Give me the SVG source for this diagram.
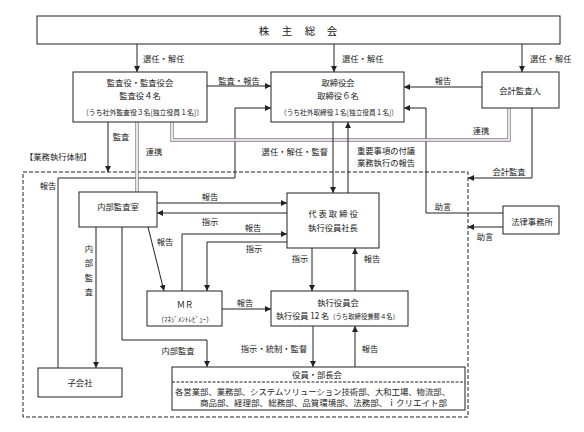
<svg xmlns="http://www.w3.org/2000/svg" width="584" height="432" viewBox="0 0 584 432">
<defs>
<marker id="ah" markerWidth="6" markerHeight="6" refX="6" refY="3" orient="auto" markerUnits="userSpaceOnUse">
<path d="M0,0 L6,3 L0,6 z" fill="#222"/>
</marker>
<style>
text{font-family:"Noto Sans CJK JP","Noto Sans",sans-serif;font-size:8.3px;fill:#222}
.box{fill:#fff;stroke:#222;stroke-width:1}
.c{text-anchor:middle}
.s{font-size:7px}
.ln{fill:none;stroke:#222;stroke-width:1}
.ar{fill:none;stroke:#222;stroke-width:1;marker-end:url(#ah)}
.dbl{fill:none;stroke:#8a7a8a;stroke-width:3.4}
.dbli{fill:none;stroke:#fff;stroke-width:1.6}
</style>
</defs>
<rect width="584" height="432" fill="#fff"/>

<g id="frame">
<rect x="23" y="172" width="445" height="245" fill="none" stroke="#222" stroke-width="1" stroke-dasharray="4,2"/>
<text x="25" y="160">【業務執行体制】</text>
</g>

<g id="connectors">
<path class="ar" d="M137 44 V72"/>
<path class="ar" d="M334 44 V72"/>
<path class="ar" d="M522 44 V72"/>
<path class="ar" d="M207 86 H271"/>
<path class="ar" d="M482 87 H404"/>
<path class="ar" d="M58 368 V178 H235 V108 H271"/>
<path class="ar" d="M503 213 H426 V108 H404"/>
<path class="ar" d="M503 227 H468"/>
<path class="ar" d="M532 108 V178 H468"/>
<path class="ar" d="M108 122 V172"/>
<path class="dbl" d="M137 122 V192"/>
<path class="dbli" d="M137 122 V192"/>
<path class="dbl" d="M172 122 V140 H509 V108"/>
<path class="dbli" d="M172 122 V140 H509 V108"/>
<path class="ar" d="M333 122 V193"/>
<path class="ar" d="M348 193 V122"/>
<path class="ar" d="M157 203 H287"/>
<path class="ar" d="M287 213 H157"/>
<path class="ar" d="M182 291 V234 H287"/>
<path class="ar" d="M287 242 H207 V291"/>
<path class="ar" d="M148 227 L164 291"/>
<path class="ar" d="M222 309 H271"/>
<path class="ar" d="M312 248 V291"/>
<path class="ar" d="M355 291 V248"/>
<path class="ar" d="M313 326 V367"/>
<path class="ar" d="M355 367 V326"/>
<path class="ar" d="M96 227 V368"/>
<path class="ar" d="M122 227 V340 H207 V367"/>

<text x="143" y="62">選任・解任</text>
<text x="342" y="62">選任・解任</text>
<text x="530" y="62">選任・解任</text>
<text class="c" x="239" y="84">監査・報告</text>
<text class="c" x="443" y="84">報告</text>
<text class="c" x="121" y="140">監査</text>
<text class="c" x="154" y="155">連携</text>
<text x="328" y="155" text-anchor="end">選任・解任・監督</text>
<text x="357" y="154">重要事項の付議</text>
<text x="357" y="166">業務執行の報告</text>
<text class="c" x="481" y="134">連携</text>
<text class="c" x="509" y="175">会計監査</text>
<text class="c" x="48" y="189">報告</text>
<text class="c" x="210" y="200">報告</text>
<text class="c" x="210" y="225">指示</text>
<text class="c" x="253" y="231">報告</text>
<text class="c" x="254" y="252">指示</text>
<text class="c" x="165" y="245">報告</text>
<text class="c" x="443" y="210">助言</text>
<text class="c" x="485" y="240">助言</text>
<text class="c" x="300" y="262">指示</text>
<text class="c" x="372" y="262">報告</text>
<text class="c" x="245" y="306">報告</text>
<text class="c" x="274" y="352">指示・統制・監督</text>
<text class="c" x="370" y="352">報告</text>
<text class="c" x="178" y="354">内部監査</text>
<text class="c" x="89" y="252">内</text>
<text class="c" x="89" y="266">部</text>
<text class="c" x="89" y="281">監</text>
<text class="c" x="89" y="295">査</text>
</g>

<g id="shareholders">
<rect class="box" x="37" y="16" width="523" height="28"/>
<text class="c" x="264 287 310 332" y="35" style="font-size:10.5px">株主総会</text>
</g>

<g id="auditors">
<rect class="box" x="73" y="72" width="134" height="50"/>
<text class="c" x="140" y="86">監査役・監査役会</text>
<text class="c" x="140" y="99">監査役４名</text>
<text class="s" x="82" y="115" textLength="121" lengthAdjust="spacingAndGlyphs">〔うち社外監査役３名[独立役員１名]〕</text>
</g>

<g id="board">
<rect class="box" x="271" y="72" width="133" height="50"/>
<text class="c" x="338" y="86">取締役会</text>
<text class="c" x="338" y="99">取締役６名</text>
<text class="s" x="280" y="115" textLength="118" lengthAdjust="spacingAndGlyphs">（うち社外取締役１名[独立役員１名]）</text>
</g>

<g id="accounting-auditor">
<rect class="box" x="482" y="72" width="77" height="36"/>
<text class="c" x="520" y="94">会計監査人</text>
</g>

<g id="internal-audit">
<rect class="box" x="79" y="192" width="78" height="35"/>
<text class="c" x="118" y="210">内部監査室</text>
</g>

<g id="president">
<rect class="box" x="287" y="193" width="92" height="55"/>
<text class="c" x="334" y="217" letter-spacing="2">代表取締役</text>
<text class="c" x="333" y="231">執行役員社長</text>
</g>

<g id="law-office">
<rect class="box" x="503" y="206" width="56" height="28"/>
<text class="c" x="532" y="225">法律事務所</text>
</g>

<g id="mr">
<rect class="box" x="147" y="291" width="75" height="35"/>
<text class="c" x="185" y="308">ＭＲ</text>
<text class="c s" x="185" y="322">（ﾏﾈｼﾞﾒﾝﾄﾚﾋﾞｭｰ）</text>
</g>

<g id="executive-committee">
<rect class="box" x="271" y="291" width="137" height="35"/>
<text class="c" x="338" y="306">執行役員会</text>
<text x="276" y="319" textLength="123" lengthAdjust="spacingAndGlyphs">執行役員 12 名<tspan style="font-size:6.5px">（うち取締役兼務４名）</tspan></text>
</g>

<g id="subsidiary">
<rect class="box" x="38" y="368" width="84" height="29"/>
<text class="c" x="80" y="386">子会社</text>
</g>

<g id="departments">
<rect class="box" x="172" y="367" width="293" height="43"/>
<line x1="172" y1="382" x2="465" y2="382" stroke="#222" stroke-width="1" stroke-dasharray="3,1.5"/>
<text class="c" x="317" y="378">役員・部長会</text>
<text x="175" y="395" textLength="275" lengthAdjust="spacingAndGlyphs">各営業部、業務部、システムソリューション技術部、大和工場、物流部、</text>
<text x="200" y="406" textLength="247" lengthAdjust="spacingAndGlyphs">商品部、経理部、総務部、品質環境部、法務部、ｉクリエイト部</text>
</g>
</svg>
